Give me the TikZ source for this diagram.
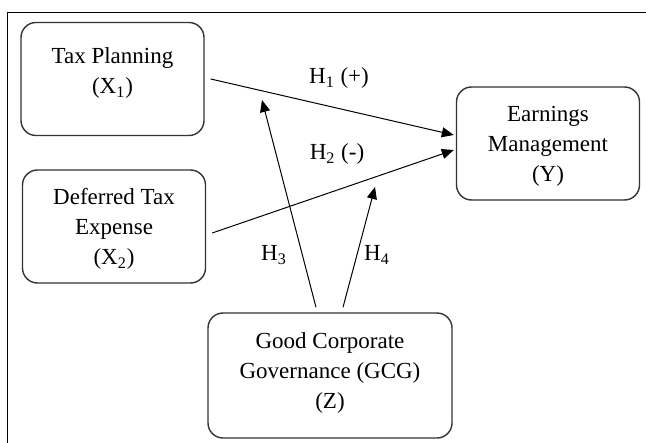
\documentclass[tikz,border=0pt]{standalone}
\usepackage{fontspec}
\setmainfont{Liberation Serif}
\usepackage{tikz}
\usetikzlibrary{arrows.meta}

\begin{document}
\begin{tikzpicture}[
    x=0.5pt, y=-0.5pt,
    box/.style={
        draw=black!80,
        line width=0.7pt,
        rounded corners=7.5pt,
        align=center,
        inner sep=0pt,
        text depth=0pt,
        minimum width=91.5pt,
        minimum height=56.5pt,
        font=\fontsize{11.5}{15}\selectfont
    },
    lbl/.style={font=\fontsize{11.5}{14}\selectfont},
    arrow/.style={-{Triangle[length=6pt,width=5pt]}, line width=0.5pt}
]
\useasboundingbox (0,0) rectangle (646,443);
\draw[line width=0.6pt] (646,12.5) -- (7.5,12.5) -- (7.5,443);

\node[box, text depth=8pt] (tax) at (112.5,79) {Tax Planning\\(X\textsubscript{1})};
\node[box] (deferred) at (114,226.5) {Deferred Tax\\Expense\\(X\textsubscript{2})};
\node[box] (earnings) at (548,143.5) {Earnings\\Management\\(Y)};
\node[box, text depth=5pt, minimum width=122pt, minimum height=62.5pt] (gcg) at (330,375.5)
    {Good Corporate\\Governance (GCG)\\(Z)};

\coordinate (h3end) at (262,100);
\coordinate (h4end) at (375,187);

\draw[arrow] ([xshift=3pt]tax.east) -- ([xshift=-1pt,yshift=4.25pt]earnings.west);
\draw[arrow] ([xshift=3pt,yshift=-3.25pt]deferred.east) -- ([xshift=-1pt,yshift=-3.25pt]earnings.west);
\draw[arrow] ([xshift=-7pt,yshift=2.5pt]gcg.north) -- (h3end);
\draw[arrow] ([xshift=6.5pt,yshift=2.5pt]gcg.north) -- (h4end);

\node[lbl] (h1) at (339,78) {H\textsubscript{1} (+)};
\node[lbl] (h2) at (337,154) {H\textsubscript{2} (-)};
\node[lbl] (h3) at (274,255) {H\textsubscript{3}};
\node[lbl] (h4) at (377,255) {H\textsubscript{4}};
\end{tikzpicture}
\end{document}
